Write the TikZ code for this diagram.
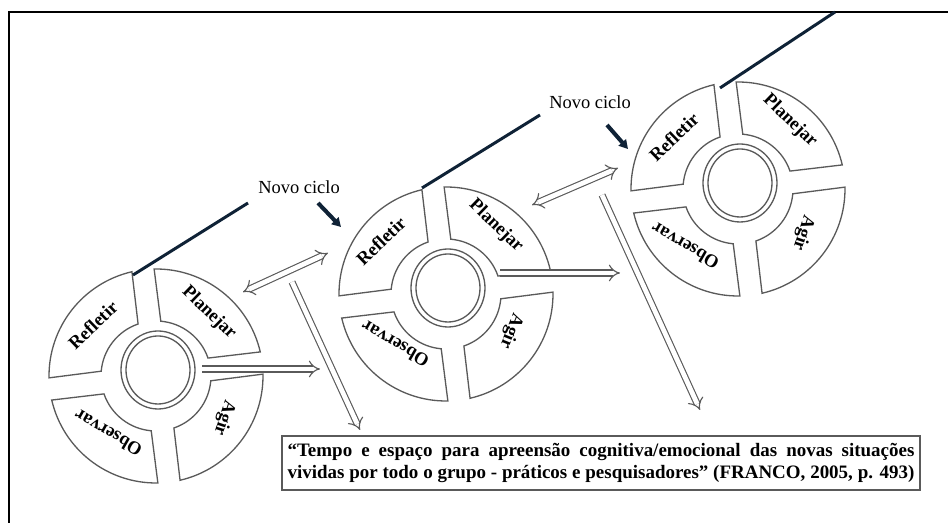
\documentclass[tikz,border=0pt]{standalone}
\usepackage{fontspec}
\setmainfont{Liberation Serif}
\usetikzlibrary{arrows.meta,shadows}
\definecolor{edge}{HTML}{5A5A5A}
\definecolor{navy}{HTML}{0F2236}
\tikzset{
  >={Triangle[length=5pt,width=5.5pt]},
  seg/.style={draw=edge,line width=0.75pt},
  ring/.style={draw=edge,line width=0.75pt},
  lb/.style={font=\fontsize{10.5}{12}\selectfont\bfseries,inner sep=0pt},
  note/.style={font=\fontsize{10.5}{12}\selectfont,inner sep=0pt},
  hollow/.style={draw=edge,line width=0.65pt,double=white,double distance=2.7pt,-{Implies}},
  hollowboth/.style={hollow,{Implies}-{Implies}},
  newline/.style={draw=navy,line width=1.7pt},
  newarrow/.style={draw=navy,line width=2.3pt,->},
  quotebox/.style={draw=edge,line width=0.9pt,fill=white,inner sep=0pt,
                   minimum width=12.76cm,minimum height=1.08cm,
                   drop shadow={shadow xshift=0.8pt,shadow yshift=-0.8pt,fill=black!45},
                   font=\fontsize{10.8}{12}\selectfont\bfseries}
}

\begin{document}
\begin{tikzpicture}[x=0.02cm,y=0.02cm]
  \useasboundingbox (0,0) rectangle (948,523);
  \draw[line width=1.1pt] (9,0) -- (9,511) -- (948,511);

  \coordinate (c1) at (158,153);
  \coordinate (c2) at (448,235);
  \coordinate (c3) at (740,340);

  % ---- cycle 1 ----
  \begin{scope}[shift={(c1)}]
    \begin{scope}[shift={(-2,-6)},rotate=7]
      \foreach \q in {0,90,180,270}
        \draw[seg] (\q+6:107) arc[start angle=\q+6,end angle=\q+84,radius=107]
          -- (\q+78:55) arc[start angle=\q+78,end angle=\q+12,radius=55] -- cycle;
    \end{scope}
    \draw[ring] (0,0) ellipse[x radius=37,y radius=39];
    \draw[ring] (0,0) ellipse[x radius=32,y radius=34];
    \node[lb,rotate=44] (refl1) at (-65,45) {Refletir};
    \node[lb,rotate=-44] (plan1) at (51,57) {Planejar};
    \node[lb,rotate=-108] (agir1) at (66,-48) {Agir};
    \node[lb,rotate=150] (obs1) at (-50,-63) {Observar};
  \end{scope}

  % ---- cycle 2 ----
  \begin{scope}[shift={(c2)}]
    \begin{scope}[shift={(-2,-6)},rotate=7]
      \foreach \q in {0,90,180,270}
        \draw[seg] (\q+6:107) arc[start angle=\q+6,end angle=\q+84,radius=107]
          -- (\q+78:55) arc[start angle=\q+78,end angle=\q+12,radius=55] -- cycle;
    \end{scope}
    \draw[ring] (0,0) ellipse[x radius=37,y radius=39];
    \draw[ring] (0,0) ellipse[x radius=32,y radius=34];
    \node[lb,rotate=44] (refl2) at (-67,47) {Refletir};
    \node[lb,rotate=-44] (plan2) at (48,62) {Planejar};
    \node[lb,rotate=-112] (agir2) at (63,-43) {Agir};
    \node[lb,rotate=150] (obs2) at (-53,-56) {Observar};
  \end{scope}

  % ---- cycle 3 ----
  \begin{scope}[shift={(c3)}]
    \begin{scope}[shift={(-2,-6)},rotate=7]
      \foreach \q in {0,90,180,270}
        \draw[seg] (\q+6:107) arc[start angle=\q+6,end angle=\q+84,radius=107]
          -- (\q+78:55) arc[start angle=\q+78,end angle=\q+12,radius=55] -- cycle;
    \end{scope}
    \draw[ring] (0,0) ellipse[x radius=37,y radius=39];
    \draw[ring] (0,0) ellipse[x radius=32,y radius=34];
    \node[lb,rotate=44] (refl3) at (-66,46) {Refletir};
    \node[lb,rotate=-44] (plan3) at (50,62) {Planejar};
    \node[lb,rotate=-108] (agir3) at (63,-50) {Agir};
    \node[lb,rotate=150] (obs3) at (-55,-63) {Observar};
  \end{scope}

  % ---- new cycle lines ----
  \coordinate (n1a) at (133,248); \coordinate (n1b) at (248,320);
  \coordinate (n2a) at (422,335); \coordinate (n2b) at (540,408);
  \coordinate (n3a) at (720,435); \coordinate (n3b) at (835,511);
  \draw[newline] (n1a) -- (n1b);
  \draw[newline] (n2a) -- (n2b);
  \draw[newline] (n3a) -- (n3b);
  \node[note] (novo1) at (299,336) {Novo ciclo};
  \node[note] (novo2) at (590,421) {Novo ciclo};
  \coordinate (k1a) at (318,320); \coordinate (k1b) at (341,296);
  \coordinate (k2a) at (607,398); \coordinate (k2b) at (628,374);
  \draw[newarrow] (k1a) -- (k1b);
  \draw[newarrow] (k2a) -- (k2b);

  % ---- hollow arrows ----
  \coordinate (e1a) at (243,231); \coordinate (e1b) at (328,270);
  \coordinate (e2a) at (532,318); \coordinate (e2b) at (618,355);
  \coordinate (h1a) at (202,154); \coordinate (h1b) at (320,154);
  \coordinate (h2a) at (500,250); \coordinate (h2b) at (620,250);
  \coordinate (d1a) at (292,241); \coordinate (d1b) at (360,93);
  \coordinate (d2a) at (602,328); \coordinate (d2b) at (700,113);
  \draw[hollowboth] (e1a) -- (e1b);
  \draw[hollowboth] (e2a) -- (e2b);
  \draw[hollow] (h1a) -- (h1b);
  \draw[hollow] (h2a) -- (h2b);
  \draw[hollow] (d1a) -- (d1b);
  \draw[hollow] (d2a) -- (d2b);

  % ---- quote ----
  \node[quotebox] (quote) at (601,60) {\parbox{12.54cm}{%
    \makebox[12.54cm][s]{“Tempo e espaço para apreensão cognitiva/emocional das novas situações}\\
    \makebox[12.54cm][s]{vividas por todo o grupo - práticos e pesquisadores” (FRANCO, 2005, p. 493)}}};
\end{tikzpicture}
\end{document}
